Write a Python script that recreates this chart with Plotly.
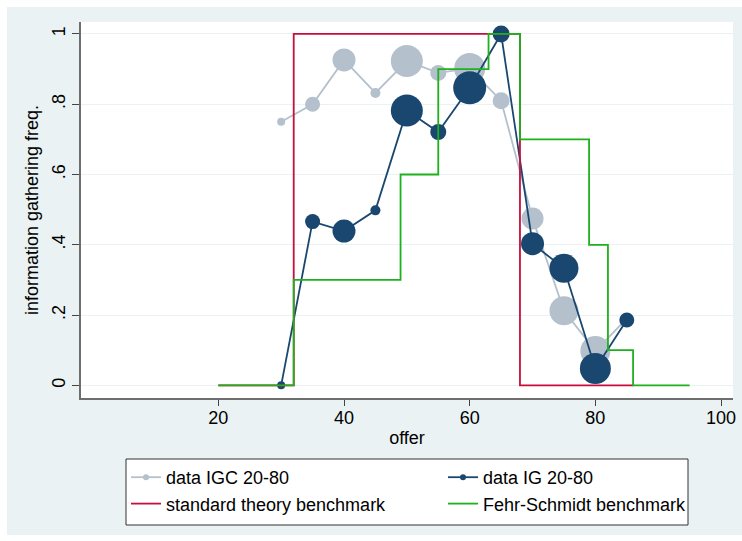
import plotly.graph_objects as go

# ---- data ----
offers_igc = [30, 35, 40, 45, 50, 55, 60, 65, 70, 75, 80, 85]
freq_igc = [0.75, 0.80, 0.926, 0.832, 0.923, 0.889, 0.902, 0.81, 0.475, 0.212, 0.098, 0.19]
size_igc = [8, 15, 23, 10, 32, 16, 31, 17, 22, 29, 30, 10]

offers_ig = [30, 35, 40, 45, 50, 55, 60, 65, 70, 75, 80, 85]
freq_ig = [0.0, 0.466, 0.439, 0.498, 0.782, 0.721, 0.847, 1.0, 0.403, 0.333, 0.048, 0.186]
size_ig = [8, 15, 23, 10, 32, 16, 33, 17, 23, 29, 31, 15]

std_x = [20, 32, 68, 86]
std_y = [0, 1, 0, 0]

fs_x = [20, 32, 49, 55, 63, 68, 79, 82, 86, 95]
fs_y = [0, 0.3, 0.6, 0.9, 1.0, 0.7, 0.4, 0.1, 0, 0]

x_ticks = [20, 40, 60, 80, 100]
y_ticks = [0, 0.2, 0.4, 0.6, 0.8, 1]
y_ticktext = ["0", ".2", ".4", ".6", ".8", "1"]

names = ["data IGC 20-80", "data IG 20-80", "standard theory benchmark", "Fehr-Schmidt benchmark"]

C_IGC = "#B4C0CC"
C_IG = "#1A476F"
C_STD = "#C80E3C"
C_FS = "#1DB21D"
BG = "#EAF2F3"
FONT = "Liberation Sans, Arial, sans-serif"

fig = go.Figure()
fig.add_trace(go.Scatter(x=offers_igc, y=freq_igc, mode="lines+markers", showlegend=False,
                         line=dict(color=C_IGC, width=1.8),
                         marker=dict(color=C_IGC, size=size_igc, opacity=1, line=dict(width=0))))
fig.add_trace(go.Scatter(x=offers_ig, y=freq_ig, mode="lines+markers", showlegend=False,
                         line=dict(color=C_IG, width=1.8),
                         marker=dict(color=C_IG, size=size_ig, opacity=1, line=dict(width=0))))
fig.add_trace(go.Scatter(x=std_x, y=std_y, mode="lines", line_shape="hv", showlegend=False,
                         line=dict(color=C_STD, width=1.8)))
fig.add_trace(go.Scatter(x=fs_x, y=fs_y, mode="lines", line_shape="hv", showlegend=False,
                         line=dict(color=C_FS, width=1.8)))

# legend entries (small symbols like the original)
for nm, col, mode in [(names[0], C_IGC, "lines+markers"), (names[1], C_IG, "lines+markers"),
                      (names[2], C_STD, "lines"), (names[3], C_FS, "lines")]:
    fig.add_trace(go.Scatter(x=[None], y=[None], mode=mode, name=nm,
                             line=dict(color=col, width=1.8),
                             marker=dict(color=col, size=6, opacity=1)))

W, H = 742, 541
L, R, T, B = 81, W - 733, 22, H - 398
pw, ph = W - L - R, H - T - B

def px2x(px):
    return (px - L) / pw

def py2y(py):
    return (H - B - py) / ph

shapes = [dict(type="rect", xref="paper", yref="paper",
               x0=px2x(126), x1=px2x(688), y0=py2y(525), y1=py2y(459),
               fillcolor="white", line=dict(color="#333333", width=1), layer="above")]
# thin white outer frame (left, top, bottom)
for (x0, y0, x1, y1) in [(0, 0, 7, H), (0, 0, W, 7), (0, H - 6, W, H)]:
    shapes.append(dict(type="rect", xref="paper", yref="paper",
                       x0=px2x(x0), x1=px2x(x1), y0=py2y(y1), y1=py2y(y0),
                       fillcolor="white", line=dict(width=0), layer="above"))

fig.update_layout(
    width=W, height=H,
    margin=dict(l=L, r=R, t=T, b=B, autoexpand=False),
    paper_bgcolor=BG, plot_bgcolor="white",
    font=dict(family=FONT, size=18, color="black"),
    showlegend=True,
    legend=dict(orientation="h", x=px2x(126), xanchor="left", y=py2y(459), yanchor="top",
                bgcolor="rgba(0,0,0,0)", borderwidth=0,
                entrywidth=272, tracegroupgap=0,
                font=dict(family=FONT, size=18, color="black")),
    shapes=shapes,
    xaxis=dict(range=[-1.85, 101.9], tickvals=x_ticks, showgrid=False, zeroline=False,
               automargin=False, ticklabelstandoff=-3, ticklabeloverflow="allow",
               showline=True, linecolor="#6E6E6E", linewidth=1.5,
               ticks="outside", ticklen=6, tickcolor="#444444", tickwidth=1,
               title=dict(text="offer", standoff=4, font=dict(size=18))),
    yaxis=dict(range=[-0.036, 1.034], tickvals=y_ticks, ticktext=y_ticktext, tickangle=-90,
               automargin=False,
               showgrid=True, gridcolor=BG, gridwidth=1.2, zeroline=False,
               showline=True, linecolor="#6E6E6E", linewidth=1.5,
               ticks="outside", ticklen=7, tickcolor="#444444", tickwidth=1,
               title=dict(text="information gathering freq.", standoff=6, font=dict(size=18))),
)

fig.write_html("out.html", config={"displayModeBar": False},
               post_script="document.body.style.margin='0';document.body.style.overflow='hidden';")
